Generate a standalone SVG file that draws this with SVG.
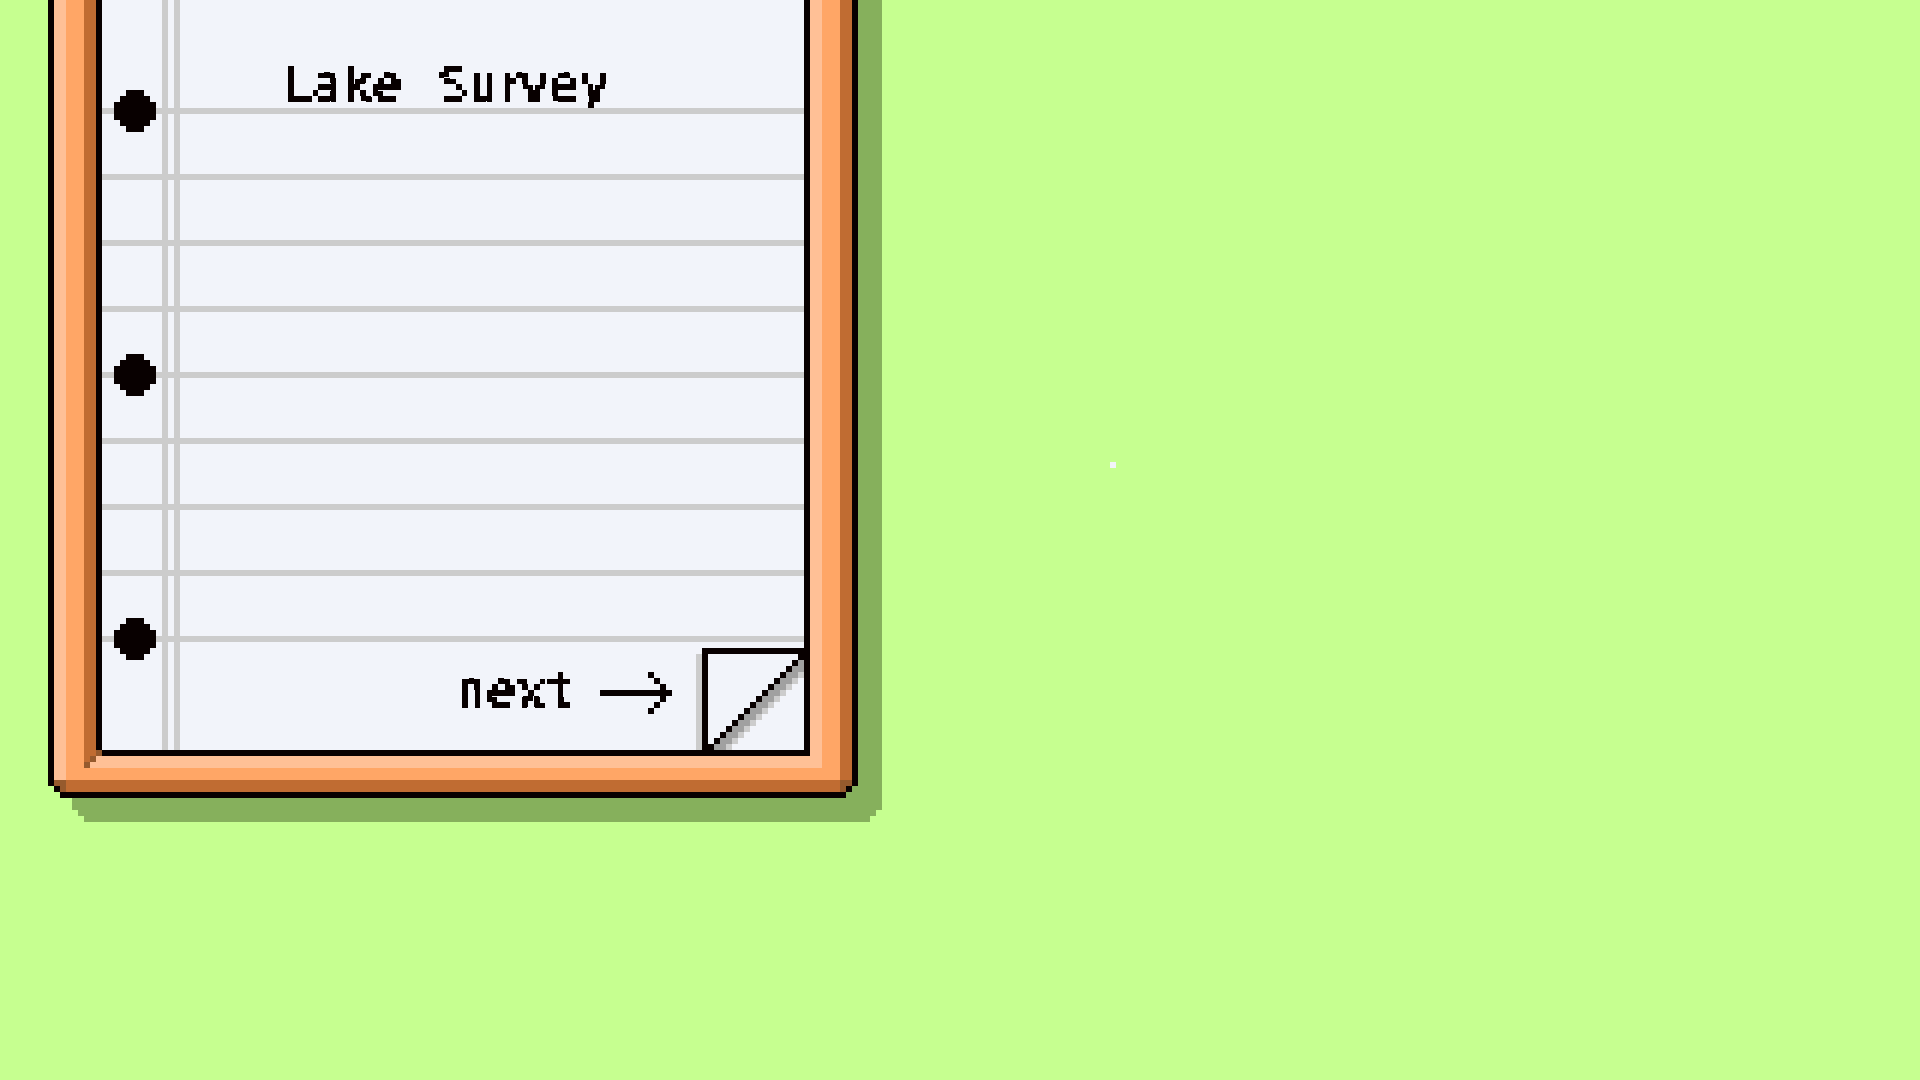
<svg xmlns="http://www.w3.org/2000/svg" width="1920" height="1080" viewBox="0 0 1920 1080">
  <style>
    * { shape-rendering: crispEdges; }
    .ink { fill: #080000; }
    .light { fill: #ffc096; }
    .orange { fill: #ffa666; }
    .brown { fill: #c06c32; }
    .dark { fill: #965a2d; }
    .paper { fill: #f2f4fa; }
    .rule { fill: #cccccc; }
    .label { font-family: "DejaVu Sans Mono", "Liberation Mono", monospace; font-size: 50px; fill: #080000; filter: url(#pixel); }
  </style>
  <defs>
    <filter id="pixel" filterUnits="userSpaceOnUse" x="0" y="0" width="900" height="800" color-interpolation-filters="sRGB">
      <feFlood x="2" y="2" width="2" height="2" flood-color="#000"/>
      <feComposite x="0" y="0" width="6" height="6"/>
      <feTile result="grid"/>
      <feComposite in="SourceGraphic" in2="grid" operator="in"/>
      <feMorphology operator="dilate" radius="2"/>
      <feComponentTransfer><feFuncA type="discrete" tableValues="0 1 1 1"/></feComponentTransfer>
    </filter>
    <path id="hole" class="ink" d="M126 90h18v6h6v6h6v18h-6v6h-6v6h-18v-6h-6v-6h-6v-18h6v-6h6z"/>
  </defs>

  <rect width="1920" height="1080" fill="#c6ff90"/>
  <rect class="paper" x="1110" y="462" width="6" height="6"/>

  <path fill="#86b05c" d="M858 0H882V810H876V816H870V822H84V816H78V810H72V798H840V780H858Z"/>

  <g id="frame">
    <path class="ink" d="M48 0V786H54V792H60V798H846V792H852V786H858V0Z"/>
    <rect class="light" x="54" y="0" width="12" height="780"/>
    <rect class="orange" x="66" y="0" width="774" height="780"/>
    <rect class="brown" x="840" y="0" width="12" height="780"/>
    <rect class="brown" x="66" y="780" width="774" height="12"/>
    <path class="dark" d="M54 780H66V792H60V786H54Z"/>
    <path class="dark" d="M840 780H852V786H846V792H840Z"/>
    <path class="brown" d="M84 0H96V756H90V762H84Z"/>
    <path class="light" d="M810 0H822V768H90V762H96V756H810Z"/>
    <path class="dark" d="M84 762h6v6h-6z M90 756h6v6h-6z M96 750h6v6h-6z"/>
    <path class="ink" d="M96 0H102V750H804V0H810V756H102V750H96Z"/>
  </g>

  <g id="page">
    <rect class="paper" x="102" y="0" width="702" height="750"/>
    <text class="label" x="282 312 342 372 402 438 468 498 519 549 579" y="102">Lake Survey</text>
    <rect class="rule" x="102" y="108" width="702" height="6"/>
    <rect class="rule" x="102" y="174" width="702" height="6"/>
    <rect class="rule" x="102" y="240" width="702" height="6"/>
    <rect class="rule" x="102" y="306" width="702" height="6"/>
    <rect class="rule" x="102" y="372" width="702" height="6"/>
    <rect class="rule" x="102" y="438" width="702" height="6"/>
    <rect class="rule" x="102" y="504" width="702" height="6"/>
    <rect class="rule" x="102" y="570" width="702" height="6"/>
    <rect class="rule" x="102" y="636" width="702" height="6"/>
    <rect class="rule" x="162" y="0" width="6" height="750"/>
    <rect class="rule" x="174" y="0" width="6" height="750"/>
    <use href="#hole"/>
    <use href="#hole" y="264"/>
    <use href="#hole" y="528"/>
    <text class="label" x="456" y="708">next</text>
  </g>

  <g id="next-arrow">
    <path class="ink" d="M600 690h72v6h-72z M648 672h6v6h-6z M654 678h6v6h-6z M660 684h6v6h-6z M660 696h6v6h-6z M654 702h6v6h-6z M648 708h6v6h-6z"/>
  </g>

  <g id="page-corner">
    <rect class="rule" x="696" y="654" width="6" height="96"/>
    <path class="ink" d="M702 648H804V654H708V750H702Z"/>
    <path fill="#a0a0a0" d="M798 660h6v6h-6z M792 666h12v6h-12z M786 672h12v6h-12z M780 678h12v6h-12z M774 684h12v6h-12z M768 690h12v6h-12z M762 696h12v6h-12z M756 702h12v6h-12z M750 708h12v6h-12z M744 714h12v6h-12z M738 720h12v6h-12z M732 726h12v6h-12z M726 732h12v6h-12z M720 738h12v6h-12z M714 744h12v6h-12z"/>
    <path class="rule" d="M798 672h6v6h-6z M792 678h6v6h-6z M786 684h6v6h-6z M780 690h6v6h-6z M774 696h6v6h-6z M768 702h6v6h-6z M762 708h6v6h-6z M756 714h6v6h-6z M750 720h6v6h-6z M744 726h6v6h-6z M738 732h6v6h-6z M732 738h6v6h-6z M726 744h6v6h-6z"/>
    <path class="ink" d="M798 654h6v6h-6z M792 660h6v6h-6z M786 666h6v6h-6z M780 672h6v6h-6z M774 678h6v6h-6z M768 684h6v6h-6z M762 690h6v6h-6z M756 696h6v6h-6z M750 702h6v6h-6z M744 708h6v6h-6z M738 714h6v6h-6z M732 720h6v6h-6z M726 726h6v6h-6z M720 732h6v6h-6z M714 738h6v6h-6z M708 744h6v6h-6z"/>
  </g>
</svg>
